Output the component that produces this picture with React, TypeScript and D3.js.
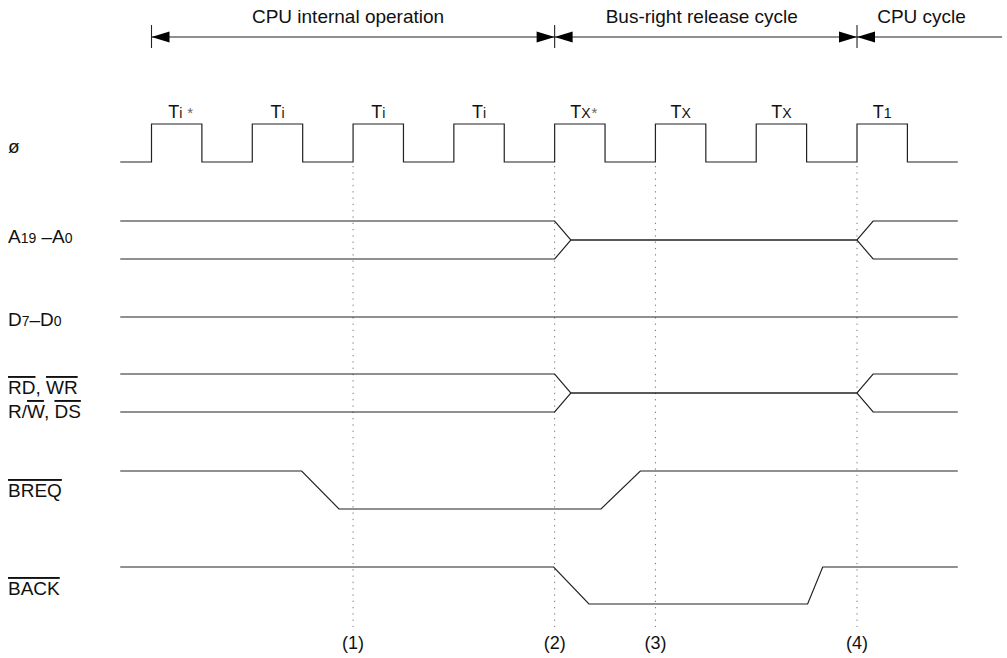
import React from "react";
import * as d3 from "d3";

// ---- data (time in clock periods, t=0 at first rising edge) ----
const clockPulses: [number, number][] = [
  [0, 0.5], [1, 1.5], [2, 2.5], [3, 3.5], [4, 4.5], [5, 5.5], [6, 6.5], [7, 7.5],
];
const clockStart = -0.31;
const clockEnd = 8;
const clockMain = ["T", "T", "T", "T", "T", "T", "T", "T"];
const clockSub = ["i", "i", "i", "i", "X", "X", "X", "1"];
const clockStar = [true, false, false, false, true, false, false, false];

const regionBounds = [0, 4, 7, 8.44];
const regionLabels = ["CPU internal operation", "Bus-right release cycle", "CPU cycle"];
const regionLabelPos = [1.95, 5.46, 7.64];

const markerTimes = [2, 4, 5, 7];
const markerLabels = ["(1)", "(2)", "(3)", "(4)"];

// level: 1 high, 0 low, 0.5 high-impedance (middle)
const addrTop: [number, number][] = [[-0.31, 1], [4, 1], [4.16, 0.5], [7, 0.5], [7.16, 1], [8, 1]];
const addrBot: [number, number][] = [[-0.31, 0], [4, 0], [4.16, 0.5], [7, 0.5], [7.16, 0], [8, 0]];
const dataLine: [number, number][] = [[-0.31, 1], [8, 1]];
const ctrlTop: [number, number][] = [[-0.31, 1], [4, 1], [4.16, 0.5], [7, 0.5], [7.16, 1], [8, 1]];
const ctrlBot: [number, number][] = [[-0.31, 0], [4, 0], [4.16, 0.5], [7, 0.5], [7.16, 0], [8, 0]];
const breq: [number, number][] = [[-0.31, 1], [1.49, 1], [1.86, 0], [4.46, 0], [4.85, 1], [8, 1]];
const back: [number, number][] = [[-0.31, 1], [3.99, 1], [4.34, 0], [6.51, 0], [6.66, 1], [8, 1]];

const FONT = "'Liberation Sans', Arial, Helvetica, sans-serif";
const STROKE = "#222";

export default function App() {
  const W = 1007, H = 658;
  const x = d3.scaleLinear().domain([0, 7]).range([151.5, 857]);

  // rows: y of high level, height of swing
  const rowY = { clk: 124, addr: 221, data: 317, ctrl: 374, breq: 471, back: 567 };
  const amp = 38;

  const wave = (pts: [number, number][], top: number, a = amp) =>
    d3.line<[number, number]>()
      .x((d) => x(d[0]))
      .y((d) => top + (1 - d[1]) * a)(pts) as string;

  const clkPts: [number, number][] = [[clockStart, 0]];
  clockPulses.forEach(([r, f]) => {
    clkPts.push([r, 0], [r, 1], [f, 1], [f, 0]);
  });
  clkPts.push([clockEnd, 0]);

  const arrowY = 37;
  const ah = 18, aw = 5.5;
  const arrowLeft = (tx: number) => `M${tx},${arrowY}L${tx + ah},${arrowY - aw}L${tx + ah},${arrowY + aw}Z`;
  const arrowRight = (tx: number) => `M${tx},${arrowY}L${tx - ah},${arrowY - aw}L${tx - ah},${arrowY + aw}Z`;

  const ol = { textDecoration: "overline" } as React.CSSProperties;

  return (
    <svg width={W} height={H} style={{ position: "absolute", left: 0, top: 0, background: "#fff" }}
      fontFamily={FONT}>
      <rect width={W} height={H} fill="#fff" />
      {/* top region arrows */}
      <line x1={x(regionBounds[0])} x2={x(regionBounds[3])} y1={arrowY} y2={arrowY} stroke={STROKE} strokeWidth={1.1} />
      {regionBounds.slice(0, 3).map((b, i) => (
        <line key={"tk" + i} x1={x(b)} x2={x(b)} y1={25} y2={48} stroke={STROKE} strokeWidth={1.1} />
      ))}
      {regionBounds.slice(0, 3).map((b, i) => (
        <path key={"al" + i} d={arrowLeft(x(b))} fill="#000" />
      ))}
      {regionBounds.slice(1, 3).map((b, i) => (
        <path key={"ar" + i} d={arrowRight(x(b))} fill="#000" />
      ))}
      {regionLabels.map((l, i) => (
        <text key={"rl" + i} x={x(regionLabelPos[i])} y={23} fontSize={19} textAnchor="middle" fill="#111">{l}</text>
      ))}

      {/* dotted markers */}
      {markerTimes.map((t, i) => (
        <line key={"dm" + i} x1={x(t)} x2={x(t)} y1={166} y2={627} stroke="#777" strokeWidth={1}
          strokeDasharray="1.3 5" />
      ))}
      {markerTimes.map((t, i) => (
        <text key={"ml" + i} x={x(t)} y={649} fontSize={18} textAnchor="middle" fill="#111">{markerLabels[i]}</text>
      ))}

      {/* clock */}
      <path d={wave(clkPts, rowY.clk)} fill="none" stroke={STROKE} strokeWidth={1.2} />
      {clockPulses.map(([r, f], i) => (
        <text key={"cl" + i} x={x((r + f) / 2) + (clockStar[i] ? 4 : 0)} y={118} textAnchor="middle" fill="#111">
          <tspan fontSize={18}>{clockMain[i]}</tspan>
          <tspan fontSize={14}>{clockSub[i]}</tspan>
          {clockStar[i] ? <tspan fontSize={15} fill="#666" dx={clockSub[i] === "i" ? 5 : 1}>*</tspan> : null}
        </text>
      ))}

      {/* signals */}
      <path d={wave(addrTop, rowY.addr)} fill="none" stroke={STROKE} strokeWidth={1.2} />
      <path d={wave(addrBot, rowY.addr)} fill="none" stroke={STROKE} strokeWidth={1.2} />
      <path d={wave(dataLine, rowY.data)} fill="none" stroke={STROKE} strokeWidth={1.2} />
      <path d={wave(ctrlTop, rowY.ctrl)} fill="none" stroke={STROKE} strokeWidth={1.2} />
      <path d={wave(ctrlBot, rowY.ctrl)} fill="none" stroke={STROKE} strokeWidth={1.2} />
      <path d={wave(breq, rowY.breq)} fill="none" stroke={STROKE} strokeWidth={1.2} />
      <path d={wave(back, rowY.back, 37)} fill="none" stroke={STROKE} strokeWidth={1.2} />

      {/* signal labels */}
      <g fill="#111" fontSize={19}>
        <text x={8} y={153} fontSize={19}>ø</text>
        <text x={8} y={243}>
          <tspan>A</tspan><tspan fontSize={14}>19</tspan><tspan> –A</tspan><tspan fontSize={14}>0</tspan>
        </text>
        <text x={8} y={326}>
          <tspan>D</tspan><tspan fontSize={14}>7</tspan><tspan>–D</tspan><tspan fontSize={14}>0</tspan>
        </text>
        <text x={8} y={394}>
          <tspan style={ol}>RD</tspan><tspan>, </tspan><tspan style={ol}>WR</tspan>
        </text>
        <text x={8} y={418}>
          <tspan>R/</tspan><tspan style={ol}>W</tspan><tspan>, </tspan><tspan style={ol}>DS</tspan>
        </text>
        <text x={8} y={497}><tspan style={ol}>BREQ</tspan></text>
        <text x={8} y={595}><tspan style={ol}>BACK</tspan></text>
      </g>
    </svg>
  );
}
